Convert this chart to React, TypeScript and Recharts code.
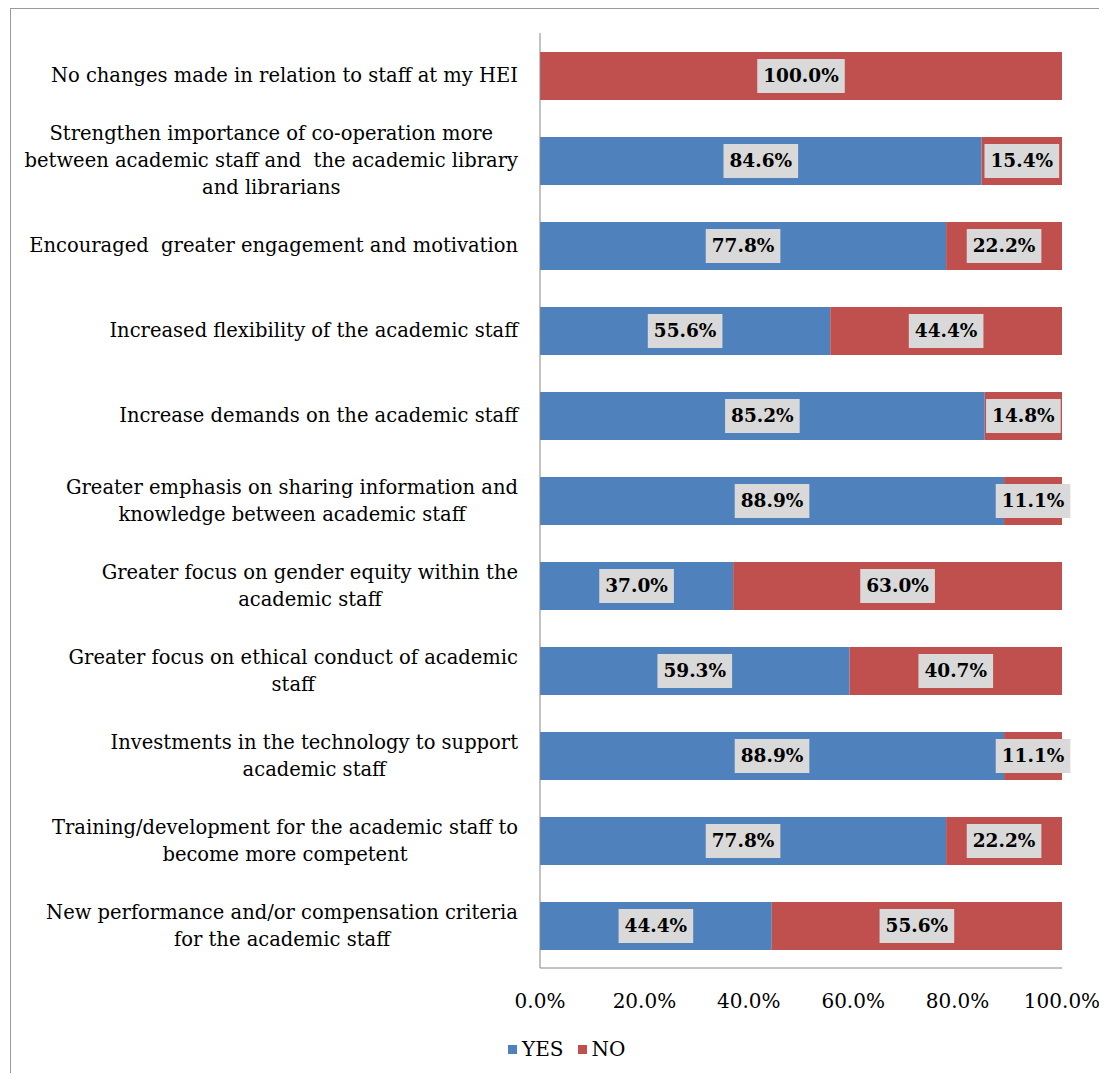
import { Bar, BarChart, LabelList, XAxis, YAxis } from "recharts"

const categories = [
	"No changes made in relation to staff at my HEI",
	"Strengthen importance of co-operation more\nbetween academic staff and  the academic library\nand librarians",
	"Encouraged  greater engagement and motivation",
	"Increased flexibility of the academic staff",
	"Increase demands on the academic staff",
	"Greater emphasis on sharing information and\nknowledge between academic staff",
	"Greater focus on gender equity within the\nacademic staff",
	"Greater focus on ethical conduct of academic\nstaff",
	"Investments in the technology to support\nacademic staff",
	"Training/development for the academic staff to\nbecome more competent",
	"New performance and/or compensation criteria\nfor the academic staff",
]

const yesValues = [0, 84.6, 77.8, 55.6, 85.2, 88.9, 37.0, 59.3, 88.9, 77.8, 44.4]
const noValues = [100, 15.4, 22.2, 44.4, 14.8, 11.1, 63.0, 40.7, 11.1, 22.2, 55.6]
const xTicks = [0, 20, 40, 60, 80, 100]

const data = categories.map((category, i) => ({
	category,
	yes: yesValues[i],
	no: noValues[i],
}))

const FONT = '"DejaVu Serif", serif'
const LABEL_SIZE = 19.5
const TICK_SIZE = 20
const VALUE_SIZE = 18.5

let ctx: CanvasRenderingContext2D | null = null
function textWidth(text: string, font: string) {
	if (!ctx) ctx = document.createElement("canvas").getContext("2d")
	if (!ctx) return text.length * 9
	ctx.font = font
	return ctx.measureText(text).width
}

function CategoryTick({ x, y, payload }: any) {
	const lines = String(payload.value).split("\n")
	const w = Math.max(...lines.map((l) => textWidth(l, `${LABEL_SIZE}px ${FONT}`)))
	const cx = x - w / 2
	const lh = 27
	return (
		<text
			x={cx}
			y={y}
			textAnchor="middle"
			fontFamily={FONT}
			fontSize={LABEL_SIZE}
			fill="#000"
			style={{ whiteSpace: "pre" }}
		>
			{lines.map((l, i) => (
				<tspan key={i} x={cx} y={y + (i - (lines.length - 1) / 2) * lh} dy="0.35em">
					{l}
				</tspan>
			))}
		</text>
	)
}

function ValueLabel(props: any) {
	const { x, y, width, height, value } = props
	if (!value) return null
	const text = `${Number(value).toFixed(1)}%`
	const w = textWidth(text, `bold ${VALUE_SIZE}px ${FONT}`) + 12
	const h = 34
	const cx = Number(x) + Number(width) / 2
	const cy = Number(y) + Number(height) / 2
	return (
		<g>
			<rect x={cx - w / 2} y={cy - h / 2} width={w} height={h} fill="#D9D9D9" />
			<text
				x={cx}
				y={cy}
				dy="0.35em"
				textAnchor="middle"
				fontFamily={FONT}
				fontSize={VALUE_SIZE}
				fontWeight="bold"
				fill="#000"
			>
				{text}
			</text>
		</g>
	)
}

export default function App() {
	return (
		<div style={{ position: "relative", width: 1091, height: 1065, overflow: "hidden" }}>
			<div
				style={{
					position: "absolute",
					left: 2,
					top: 0,
					width: 1200,
					height: 1200,
					borderLeft: "1px solid #9a9a9a",
					borderTop: "1px solid #9a9a9a",
				}}
			/>
			<div style={{ position: "absolute", left: 0, top: 0 }}>
				<BarChart
					width={1091}
					height={1065}
					data={data}
					layout="vertical"
					margin={{ top: 25, right: 37, left: 0, bottom: 65 }}
				>
					<XAxis
						type="number"
						domain={[0, 100]}
						ticks={xTicks}
						tickFormatter={(v: number) => `${v.toFixed(1)}%`}
						height={40}
						tickSize={0}
						tickMargin={26}
						stroke="#868686"
						tick={{ fontSize: TICK_SIZE, fontFamily: FONT, fill: "#000" }}
					/>
					<YAxis
						type="category"
						dataKey="category"
						width={532}
						tickSize={0}
						tickMargin={22}
						stroke="#868686"
						interval={0}
						tick={<CategoryTick />}
					/>
					<Bar dataKey="yes" name="YES" stackId="a" fill="#4F81BD" barSize={48} isAnimationActive={false}>
						<LabelList dataKey="yes" content={<ValueLabel />} />
					</Bar>
					<Bar dataKey="no" name="NO" stackId="a" fill="#C0504D" barSize={48} isAnimationActive={false}>
						<LabelList dataKey="no" content={<ValueLabel />} />
					</Bar>
				</BarChart>
			</div>
			<div
				style={{
					position: "absolute",
					left: 500,
					top: 1029,
					display: "flex",
					alignItems: "center",
					fontFamily: FONT,
					fontSize: TICK_SIZE,
					color: "#000",
				}}
			>
				<span style={{ width: 9, height: 9, background: "#4F81BD", marginRight: 5 }} />
				<span style={{ marginRight: 14 }}>YES</span>
				<span style={{ width: 9, height: 9, background: "#C0504D", marginRight: 5 }} />
				<span>NO</span>
			</div>
		</div>
	)
}
